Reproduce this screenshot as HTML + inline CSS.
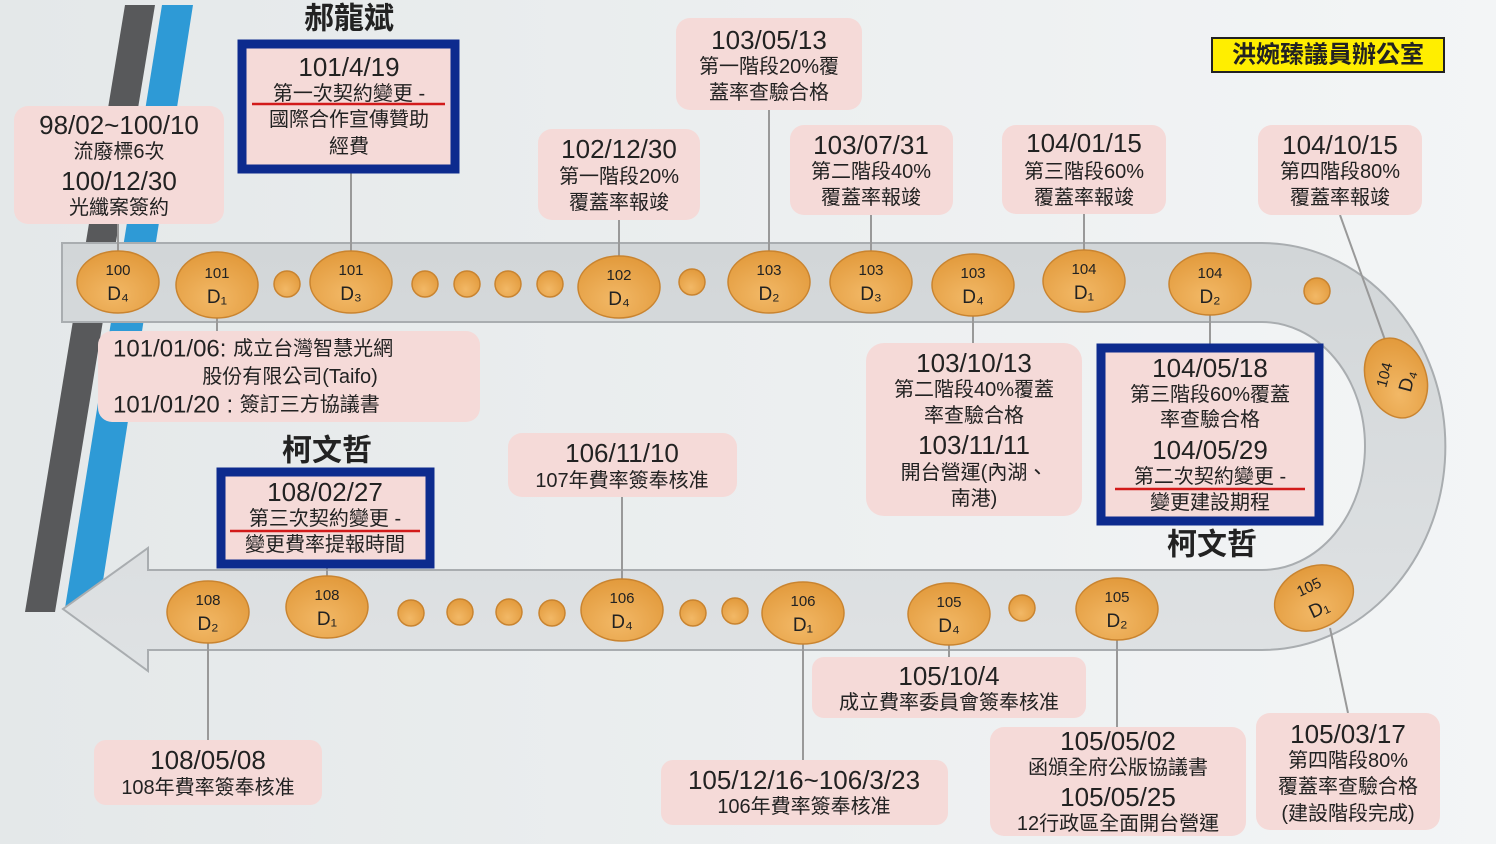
<!DOCTYPE html>
<html><head><meta charset="utf-8"><style>
html,body{margin:0;padding:0;background:#eceff0}
svg{display:block}
text{font-family:"Liberation Sans","Noto Sans CJK TC",sans-serif;fill:#222}
</style></head><body>
<svg width="1496" height="844" viewBox="0 0 1496 844" xmlns="http://www.w3.org/2000/svg">
<defs>
<linearGradient id="bg" x1="0" x2="1"><stop offset="0" stop-color="#e4e8e9"/><stop offset="1" stop-color="#f3f5f6"/></linearGradient>
<radialGradient id="og" cx="0.45" cy="0.7" r="0.7"><stop offset="0" stop-color="#f2b866"/><stop offset="1" stop-color="#e29a3c"/></radialGradient>
<linearGradient id="band" x1="0" y1="0" x2="0" y2="1"><stop offset="0" stop-color="#d2d6d8"/><stop offset="1" stop-color="#dfe2e4"/></linearGradient>
</defs>
<rect width="1496" height="844" fill="url(#bg)"/>
<polygon points="125,5 155,5 55,612 25,612" fill="#58595b"/>
<polygon points="162,5 193,5 100,600 65,608" fill="#2e9ad6"/>
<path d="M62,243 H1262 A183,203 0 0 1 1262,650 H148 V671 L63,609 L148,548 V570 H1262 A103,124 0 0 0 1262,322 H62 Z" fill="url(#band)" stroke="#a9adb0" stroke-width="2"/>
<g stroke="#999" stroke-width="2">
<line x1="118" y1="224" x2="118" y2="252"/><line x1="217" y1="312" x2="217" y2="331"/>
<line x1="351" y1="173" x2="351" y2="252"/><line x1="619" y1="220" x2="619" y2="258"/>
<line x1="769" y1="110" x2="769" y2="252"/><line x1="871" y1="215" x2="871" y2="252"/>
<line x1="973" y1="312" x2="973" y2="343"/><line x1="1084" y1="214" x2="1084" y2="252"/>
<line x1="1210" y1="312" x2="1210" y2="344"/><line x1="1340" y1="215" x2="1385" y2="340"/>
<line x1="622" y1="497" x2="622" y2="582"/><line x1="327" y1="568" x2="327" y2="580"/>
<line x1="208" y1="640" x2="208" y2="740"/><line x1="803" y1="640" x2="803" y2="760"/>
<line x1="949" y1="640" x2="949" y2="657"/><line x1="1117" y1="638" x2="1117" y2="727"/>
<line x1="1330" y1="628" x2="1348" y2="713"/>
</g>
<g fill="url(#og)" stroke="#c98430" stroke-width="1.5">
<ellipse cx="118" cy="282" rx="41" ry="31"/><ellipse cx="217" cy="285" rx="41" ry="33"/>
<circle cx="287" cy="284" r="13"/><ellipse cx="351" cy="282" rx="41" ry="31"/>
<circle cx="425" cy="284" r="13"/><circle cx="467" cy="284" r="13"/><circle cx="508" cy="284" r="13"/><circle cx="550" cy="284" r="13"/>
<ellipse cx="619" cy="287" rx="41" ry="31"/><circle cx="692" cy="282" r="13"/>
<ellipse cx="769" cy="282" rx="41" ry="31"/><ellipse cx="871" cy="282" rx="41" ry="31"/>
<ellipse cx="973" cy="285" rx="41" ry="31"/><ellipse cx="1084" cy="281" rx="41" ry="31"/>
<ellipse cx="1210" cy="284" rx="41" ry="31"/><circle cx="1317" cy="291" r="13"/>
<ellipse cx="1396" cy="378" rx="30" ry="41" transform="rotate(-20 1396 378)"/>
<ellipse cx="1314" cy="598" rx="41" ry="31" transform="rotate(-25 1314 598)"/>
<ellipse cx="208" cy="612" rx="41" ry="31"/><ellipse cx="327" cy="607" rx="41" ry="31"/>
<circle cx="411" cy="613" r="13"/><circle cx="460" cy="612" r="13"/><circle cx="509" cy="612" r="13"/><circle cx="552" cy="613" r="13"/>
<ellipse cx="622" cy="610" rx="41" ry="31"/><circle cx="693" cy="613" r="13"/><circle cx="735" cy="611" r="13"/>
<ellipse cx="803" cy="613" rx="41" ry="31"/><ellipse cx="949" cy="614" rx="41" ry="31"/>
<circle cx="1022" cy="608" r="13"/><ellipse cx="1117" cy="609" rx="41" ry="31"/>
</g>
<g font-size="15" text-anchor="middle">
<text x="118" y="275">100</text><text x="118" y="300" font-size="19">D₄</text>
<text x="217" y="278">101</text><text x="217" y="303" font-size="19">D₁</text>
<text x="351" y="275">101</text><text x="351" y="300" font-size="19">D₃</text>
<text x="619" y="280">102</text><text x="619" y="305" font-size="19">D₄</text>
<text x="769" y="275">103</text><text x="769" y="300" font-size="19">D₂</text>
<text x="871" y="275">103</text><text x="871" y="300" font-size="19">D₃</text>
<text x="973" y="278">103</text><text x="973" y="303" font-size="19">D₄</text>
<text x="1084" y="274">104</text><text x="1084" y="299" font-size="19">D₁</text>
<text x="1210" y="278">104</text><text x="1210" y="303" font-size="19">D₂</text>
<g transform="rotate(-75 1396 378)"><text x="1396" y="371">104</text><text x="1396" y="396" font-size="19">D₄</text></g>
<g transform="rotate(-25 1314 598)"><text x="1314" y="591">105</text><text x="1314" y="616" font-size="19">D₁</text></g>
<text x="208" y="605">108</text><text x="208" y="630" font-size="19">D₂</text>
<text x="327" y="600">108</text><text x="327" y="625" font-size="19">D₁</text>
<text x="622" y="603">106</text><text x="622" y="628" font-size="19">D₄</text>
<text x="803" y="606">106</text><text x="803" y="631" font-size="19">D₁</text>
<text x="949" y="607">105</text><text x="949" y="632" font-size="19">D₄</text>
<text x="1117" y="602">105</text><text x="1117" y="627" font-size="19">D₂</text>
</g>
<g fill="#f5dad8">
<rect x="14" y="106" width="210" height="118" rx="14"/>
<rect x="676" y="18" width="186" height="92" rx="14"/>
<rect x="538" y="129" width="162" height="91" rx="14"/>
<rect x="790" y="125" width="163" height="90" rx="14"/>
<rect x="1002" y="125" width="164" height="89" rx="14"/>
<rect x="1258" y="125" width="164" height="90" rx="14"/>
<rect x="98" y="331" width="382" height="91" rx="14"/>
<rect x="508" y="433" width="229" height="64" rx="14"/>
<rect x="866" y="343" width="216" height="173" rx="18"/>
<rect x="812" y="657" width="274" height="61" rx="12"/>
<rect x="94" y="740" width="228" height="65" rx="12"/>
<rect x="661" y="760" width="287" height="65" rx="12"/>
<rect x="990" y="727" width="256" height="109" rx="14"/>
<rect x="1256" y="713" width="184" height="117" rx="14"/>
</g>
<rect x="242" y="44" width="213" height="125" fill="#f5dad8" stroke="#0d2b8e" stroke-width="9"/>
<rect x="221" y="472" width="209" height="92" fill="#f5dad8" stroke="#0d2b8e" stroke-width="9"/>
<rect x="1101" y="348" width="218" height="173" fill="#f5dad8" stroke="#0d2b8e" stroke-width="9"/>
<rect x="1212" y="38" width="232" height="34" fill="#ffee00" stroke="#222" stroke-width="2"/>
<g stroke="#d21a1a" stroke-width="2.5">
<line x1="252" y1="104" x2="445" y2="104"/><line x1="230" y1="531" x2="420" y2="531"/><line x1="1115" y1="489" x2="1305" y2="489"/>
</g>
<g text-anchor="middle" dominant-baseline="central">
<text x="119" y="125" font-size="26">98/02~100/10</text><text x="119" y="152" font-size="20">流廢標6次</text>
<text x="119" y="181" font-size="26">100/12/30</text><text x="119" y="208" font-size="20">光纖案簽約</text>
<text x="349" y="19" font-size="30" font-weight="bold">郝龍斌</text>
<text x="349" y="67" font-size="26">101/4/19</text><text x="349" y="94" font-size="20">第一次契約變更 -</text>
<text x="349" y="120" font-size="20">國際合作宣傳贊助</text><text x="349" y="147" font-size="20">經費</text>
<text x="769" y="40" font-size="26">103/05/13</text><text x="769" y="67" font-size="20">第一階段20%覆</text><text x="769" y="93" font-size="20">蓋率查驗合格</text>
<text x="619" y="149" font-size="26">102/12/30</text><text x="619" y="177" font-size="20">第一階段20%</text><text x="619" y="203" font-size="20">覆蓋率報竣</text>
<text x="871" y="145" font-size="26">103/07/31</text><text x="871" y="172" font-size="20">第二階段40%</text><text x="871" y="198" font-size="20">覆蓋率報竣</text>
<text x="1084" y="143" font-size="26">104/01/15</text><text x="1084" y="172" font-size="20">第三階段60%</text><text x="1084" y="198" font-size="20">覆蓋率報竣</text>
<text x="1340" y="145" font-size="26">104/10/15</text><text x="1340" y="172" font-size="20">第四階段80%</text><text x="1340" y="198" font-size="20">覆蓋率報竣</text>
<text x="1328" y="55" font-size="24" font-weight="bold">洪婉臻議員辦公室</text>
<text x="113" y="349" font-size="24" text-anchor="start">101/01/06: <tspan font-size="20">成立台灣智慧光網</tspan></text>
<text x="290" y="377" font-size="20">股份有限公司(Taifo)</text>
<text x="113" y="405" font-size="24" text-anchor="start">101/01/20 : <tspan font-size="20">簽訂三方協議書</tspan></text>
<text x="327" y="451" font-size="30" font-weight="bold">柯文哲</text>
<text x="325" y="492" font-size="26">108/02/27</text><text x="325" y="519" font-size="20">第三次契約變更 -</text><text x="325" y="545" font-size="20">變更費率提報時間</text>
<text x="622" y="453" font-size="26">106/11/10</text><text x="622" y="481" font-size="20">107年費率簽奉核准</text>
<text x="974" y="363" font-size="26">103/10/13</text><text x="974" y="390" font-size="20">第二階段40%覆蓋</text><text x="974" y="416" font-size="20">率查驗合格</text>
<text x="974" y="445" font-size="26">103/11/11</text><text x="974" y="473" font-size="20">開台營運(內湖、</text><text x="974" y="499" font-size="20">南港)</text>
<text x="1210" y="368" font-size="26">104/05/18</text><text x="1210" y="395" font-size="20">第三階段60%覆蓋</text><text x="1210" y="420" font-size="20">率查驗合格</text>
<text x="1210" y="450" font-size="26">104/05/29</text><text x="1210" y="477" font-size="20">第二次契約變更 -</text><text x="1210" y="503" font-size="20">變更建設期程</text>
<text x="1212" y="545" font-size="30" font-weight="bold">柯文哲</text>
<text x="949" y="676" font-size="26">105/10/4</text><text x="949" y="703" font-size="20">成立費率委員會簽奉核准</text>
<text x="208" y="760" font-size="26">108/05/08</text><text x="208" y="788" font-size="20">108年費率簽奉核准</text>
<text x="804" y="780" font-size="26">105/12/16~106/3/23</text><text x="804" y="807" font-size="20">106年費率簽奉核准</text>
<text x="1118" y="741" font-size="26">105/05/02</text><text x="1118" y="768" font-size="20">函頒全府公版協議書</text>
<text x="1118" y="797" font-size="26">105/05/25</text><text x="1118" y="824" font-size="20">12行政區全面開台營運</text>
<text x="1348" y="734" font-size="26">105/03/17</text><text x="1348" y="761" font-size="20">第四階段80%</text><text x="1348" y="787" font-size="20">覆蓋率查驗合格</text><text x="1348" y="814" font-size="20">(建設階段完成)</text>
</g>
</svg>
</body></html>
